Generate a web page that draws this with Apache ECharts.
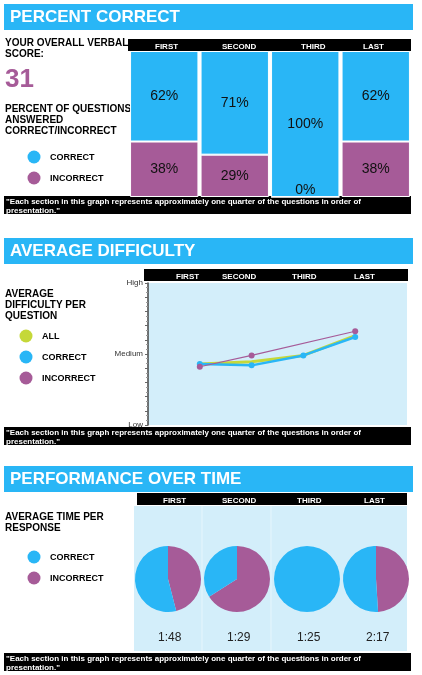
<!DOCTYPE html>
<html><head><meta charset="utf-8">
<script src="https://cdn.jsdelivr.net/npm/echarts@6/dist/echarts.min.js"></script>
<style>html,body{margin:0;padding:0;background:#fff}#c{width:422px;height:675px}</style>
</head><body><div id="c"></div>
<script>
const sections = ['FIRST','SECOND','THIRD','LAST'];
const pctCorrect = [62,71,100,62];
const pctIncorrect = [38,29,0,38];
const diffAll = [4.3,4.45,4.9,6.3];
const diffCorrect = [4.3,4.2,4.9,6.2];
const diffIncorrect = [4.1,4.9,null,6.6];
const timeCorrect = [54,34,100,51];
const timeIncorrect = [46,66,0,49];
const timeLabels = ['1:48','1:29','1:25','2:17'];
const score = '31';
const footnote = '"Each section in this graph represents approximately one quarter of the questions in order of\npresentation."';

const BLUE='#29b6f6', PURP='#a65b98', GREEN='#c5d839', LIGHT='#d3eefa';
const F='Liberation Sans, Arial, sans-serif';
const chart = echarts.init(document.getElementById('c'));
const g = [];
function header(y,t){
  g.push({type:'rect',shape:{x:4,y:y,width:409,height:26},style:{fill:BLUE}});
  g.push({type:'text',x:10,y:y+13,style:{text:t,fill:'#fff',font:'bold 17px '+F,verticalAlign:'middle'}});
}
function foot(y){
  g.push({type:'rect',shape:{x:4,y:y,width:407,height:18},style:{fill:'#000'}});
  g.push({type:'text',x:6,y:y+1,style:{text:footnote,fill:'#fff',font:'bold 8px '+F,lineHeight:9}});
}
function txt(x,y,t,font,fill){g.push({type:'text',x:x,y:y,style:{text:t,font:font,fill:fill||'#000',lineHeight:11}});}
function legend(x,y,items){items.forEach((it,i)=>{
  g.push({type:'circle',shape:{cx:x,cy:y+i*21,r:6.5},style:{fill:it[1]}});
  txt(x+16,y+i*21-5,it[0],'bold 9px '+F);
});}
function bar(x1,x2,y){g.push({type:'rect',shape:{x:x1,y:y,width:x2-x1,height:12},style:{fill:'#000'}});}
function catLabels(xs,y){sections.forEach((s,i)=>txt(xs[i],y,s,'bold 8px '+F,'#fff'));}

// Section 1
header(4,'PERCENT CORRECT');
bar(128,411,39);
txt(5,38,'YOUR OVERALL VERBAL\nSCORE:','bold 10px '+F);
g.push({type:'text',x:5,y:67,style:{text:score,font:'bold 26px '+F,fill:PURP}});
txt(5,104,'PERCENT OF QUESTIONS\nANSWERED\nCORRECT/INCORRECT','bold 10px '+F);
legend(34,157,[['CORRECT',BLUE],['INCORRECT',PURP]]);
foot(196);
// Section 2
header(238,'AVERAGE DIFFICULTY');
bar(144,408,269);
g.push({type:'rect',shape:{x:148,y:283,width:259,height:142},style:{fill:LIGHT},z:-1});
txt(5,289,'AVERAGE\nDIFFICULTY PER\nQUESTION','bold 10px '+F);
legend(26,336,[['ALL',GREEN],['CORRECT',BLUE],['INCORRECT',PURP]]);
foot(427);
// Section 3
header(466,'PERFORMANCE OVER TIME');
bar(137,407,493);
g.push({type:'rect',shape:{x:134,y:506,width:273,height:145},style:{fill:LIGHT},z:-1});
[202,271].forEach(x=>g.push({type:'line',shape:{x1:x,y1:506,x2:x,y2:651},style:{stroke:'#e6f6fd',lineWidth:1}}));
txt(5,512,'AVERAGE TIME PER\nRESPONSE','bold 10px '+F);
legend(34,557,[['CORRECT',BLUE],['INCORRECT',PURP]]);
foot(653);

const series = [
 {type:'bar',stack:'p',xAxisIndex:0,yAxisIndex:0,barCategoryGap:'3%',
  data:pctIncorrect.map(v=>({value:v,label:{position:v===0?'insideBottom':'inside'}})),
  itemStyle:{color:PURP,borderColor:'#fff',borderWidth:1},
  label:{show:true,formatter:'{c}%',fontFamily:F,fontSize:14,color:'#111',distance:0}},
 {type:'bar',stack:'p',xAxisIndex:0,yAxisIndex:0,barCategoryGap:'3%',data:pctCorrect,
  itemStyle:{color:BLUE,borderColor:'#fff',borderWidth:1},
  label:{show:true,position:'inside',formatter:'{c}%',fontFamily:F,fontSize:14,color:'#111'}},
 {type:'line',xAxisIndex:1,yAxisIndex:1,data:diffAll.map((v,i)=>[i+1,v]),color:GREEN,lineStyle:{width:3,color:GREEN},showSymbol:false,symbol:'none'},
 {type:'line',xAxisIndex:1,yAxisIndex:1,data:diffCorrect.map((v,i)=>[i+1,v]),color:BLUE,lineStyle:{width:2.5,color:BLUE},symbol:'circle',symbolSize:6,itemStyle:{color:BLUE}},
 {type:'line',xAxisIndex:1,yAxisIndex:1,data:diffIncorrect.map((v,i)=>[i+1,v]).filter(d=>d[1]!==null),color:PURP,lineStyle:{width:1.2,color:PURP},symbol:'circle',symbolSize:6,itemStyle:{color:PURP}}
];
const pcx=[168,237,307,376];
sections.forEach((s,i)=>{
  series.push({type:'pie',center:[pcx[i],579],radius:33,startAngle:90,clockwise:true,silent:true,
    label:{show:false},labelLine:{show:false},minAngle:0,
    data:[{value:timeIncorrect[i],itemStyle:{color:PURP}},{value:timeCorrect[i],itemStyle:{color:BLUE}}]});
  txt(pcx[i]-10,632,timeLabels[i],'12px '+F,'#222');
});
catLabels([155,222,301,363],41);
catLabels([176,222,292,354],271);
catLabels([163,222,297,364],495);

chart.setOption({
  animation:false,
  graphic:g,
  grid:[{left:129,right:11,top:51,bottom:478},{left:148,right:15,top:283,bottom:250}],
  xAxis:[{type:'category',gridIndex:0,data:sections,show:false},
         {type:'value',gridIndex:1,min:0,max:5,show:false}],
  yAxis:[{type:'value',gridIndex:0,min:0,max:100,show:false},
         {type:'value',gridIndex:1,min:0,max:10,interval:1,
          axisLine:{show:true,lineStyle:{color:'#444',width:1.5}},
          axisTick:{show:true,length:3,lineStyle:{color:'#666'}},
          minorTick:{show:true,splitNumber:3,length:2,lineStyle:{color:'#999'}},
          splitLine:{show:false},
          axisLabel:{fontFamily:F,fontSize:8,color:'#333',margin:5,
            formatter:v=>v===10?'High':v===5?'Medium':v===0?'Low':''}}],
  series:series
});
</script></body></html>
